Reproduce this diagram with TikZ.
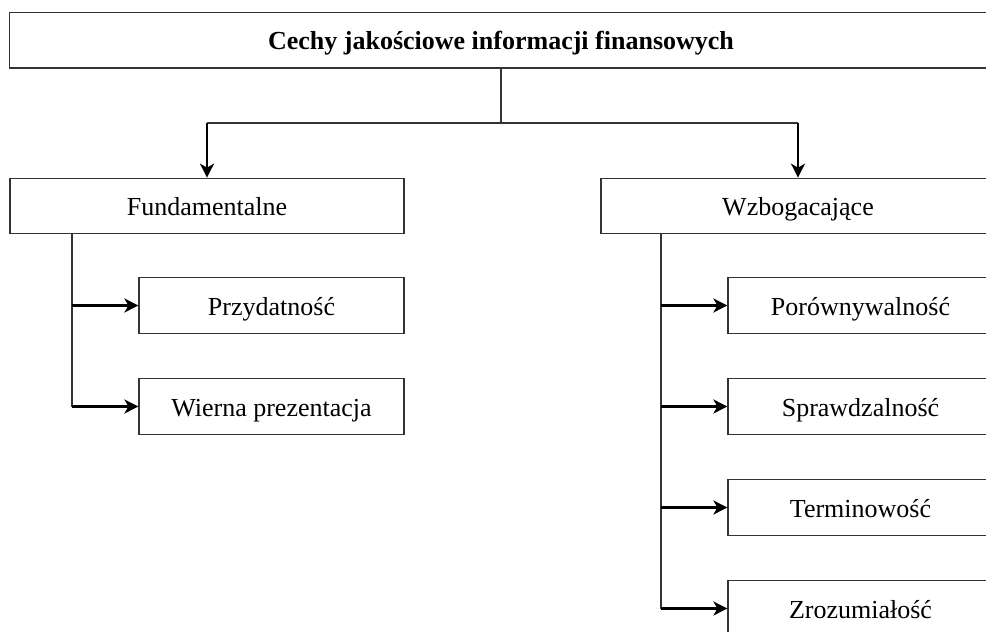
\documentclass[tikz,border=0pt]{standalone}
\usepackage{fontspec}
\setmainfont{Liberation Serif}
\usetikzlibrary{arrows.meta}

\begin{document}
\begin{tikzpicture}[x=1pt,y=-1pt,
    box/.style={draw=black!80,line width=1.2pt,minimum height=55.5pt,inner sep=0pt,
      text height=21pt,text depth=2pt,font=\fontsize{26}{30}\selectfont},
    mainbox/.style={box,minimum width=394pt},
    subbox/.style={box,minimum width=265pt},
    link/.style={draw=black!80,line width=1.2pt},
    arr/.style={line width=2.2pt,-{Stealth[length=14pt,width=14pt,inset=4pt]}}]
    \useasboundingbox (0,0) rectangle (986,632);
    \clip (0,0) rectangle (986,632);
    \node [box,minimum width=983pt,font=\fontsize{26}{30}\selectfont\bfseries] (title) at (501,40.3)
      {Cechy jakościowe informacji finansowych};
    \node [mainbox] (fund) at (207,206) {Fundamentalne};
    \node [mainbox] (wzb)  at (798,206) {Wzbogacające};
      \node [subbox] (przyd) at (271.5,305.5) {Przydatność};
      \node [subbox] (wiern) at (271.5,406.5) {Wierna prezentacja};
      \node [subbox] (poro)  at (860.5,305.5) {Porównywalność};
      \node [subbox] (spraw) at (860.5,406.5) {Sprawdzalność};
      \node [subbox] (termi) at (860.5,507.5) {Terminowość};
      \node [subbox] (zrozu) at (860.5,608.5) {Zrozumiałość};
    \coordinate (split) at (501,123);
    \coordinate (lbus) at (72,0);
    \coordinate (rbus) at (661,0);
    % top level
    \draw[link] (title.south) -- (split);
    \draw[link] (fund.north |- split) -- (wzb.north |- split);
    \draw[arr] (fund.north |- split) -- (fund.north);
    \draw[arr] (wzb.north |- split) -- (wzb.north);
    % branches
    \draw[link] (fund.south -| lbus) -- (wiern.west -| lbus);
    \draw[link] (wzb.south -| rbus) -- (zrozu.west -| rbus);
    \foreach \c in {przyd,wiern}
      \draw[arr] (\c.west -| lbus) -- (\c.west);
    \foreach \c in {poro,spraw,termi,zrozu}
      \draw[arr] (\c.west -| rbus) -- (\c.west);
\end{tikzpicture}
\end{document}
